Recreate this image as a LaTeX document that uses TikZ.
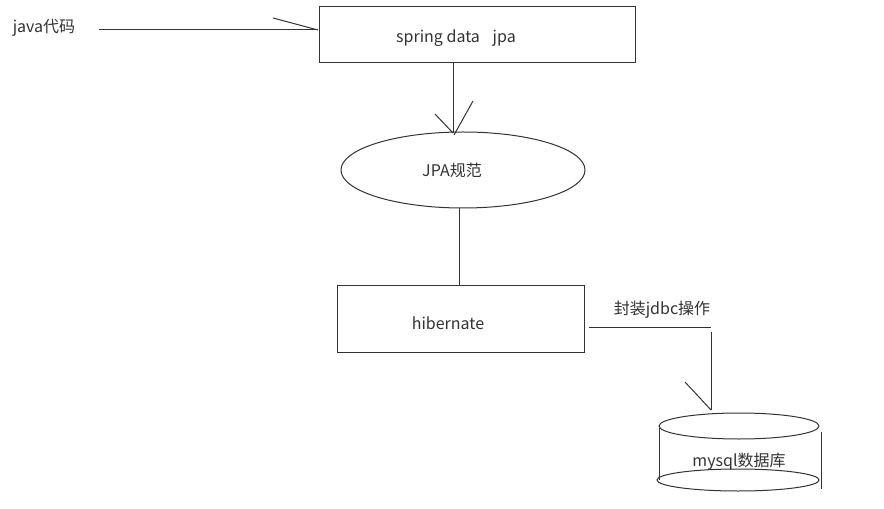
\documentclass[tikz,border=0pt]{standalone}
\usepackage{fontspec}
\setmainfont{Noto Sans CJK SC}
\usetikzlibrary{shapes.geometric}
\definecolor{ink}{HTML}{333333}
\begin{document}
\begin{tikzpicture}[x=0.75pt,y=-0.75pt,
  line/.style={draw=ink,line width=0.75pt},
  lbl/.style={text=ink,font=\fontsize{12}{14}\selectfont,inner sep=0pt},
  boxnode/.style={draw=ink,line width=0.75pt,inner sep=0pt}]
\useasboundingbox (0,0) rectangle (884,509);
% java code
\node[lbl] (java) at (44,28) {java代码};
\coordinate (javaEnd) at (99,30);
\node[boxnode,minimum width=316*0.75pt,minimum height=56*0.75pt] (spring) at (477,35) {};
\node[lbl] at (456,38) {spring data\hspace{0.8em}jpa};
\coordinate (springIn) at (318,30);
\draw[line] (javaEnd) -- (springIn);
\coordinate (barbA) at (273,18);
\draw[line] (barbA) -- (springIn);
% spring -> JPA
\node[draw=ink,line width=0.75pt,ellipse,minimum width=244*0.75pt,minimum height=76*0.75pt,inner sep=0pt] (jpa) at (463,170) {};
\node[lbl] at (452,170) {JPA规范};
\coordinate (s1) at (453,63);
\coordinate (s2) at (453,133);
\draw[line] (s1) -- (s2);
\coordinate (barbB1) at (435,114);
\coordinate (barbB2) at (473,101);
\coordinate (s3) at (454,135);
\draw[line] (barbB1) -- (s2);
\draw[line] (barbB2) -- (s3);
% JPA -> hibernate
\node[boxnode,minimum width=247*0.75pt,minimum height=66*0.75pt] (hib) at (460.5,319) {};
\node[lbl] at (448,323) {hibernate};
\coordinate (j1) at (459,208);
\coordinate (j2) at (459,286);
\draw[line] (j1) -- (j2);
% hibernate -> mysql
\node[lbl] (jdbc) at (662,310) {封装jdbc操作};
\coordinate (h1) at (589,327);
\coordinate (h2) at (711,327);
\draw[line] (h1) -- (h2);
\coordinate (v1) at (711,332);
\coordinate (v2) at (711,410);
\draw[line] (v1) -- (v2);
\coordinate (barbC) at (685,382);
\draw[line] (barbC) -- (v2);
% cylinder
\draw[line] (739,426) ellipse (80 and 13);
\draw[line] (738,480) ellipse (81 and 11);
\draw[line] (659,428) -- (659,480);
\draw[line] (821,432) -- (821,489);
\node[lbl] (db) at (739,462) {mysql数据库};
\end{tikzpicture}
\end{document}
